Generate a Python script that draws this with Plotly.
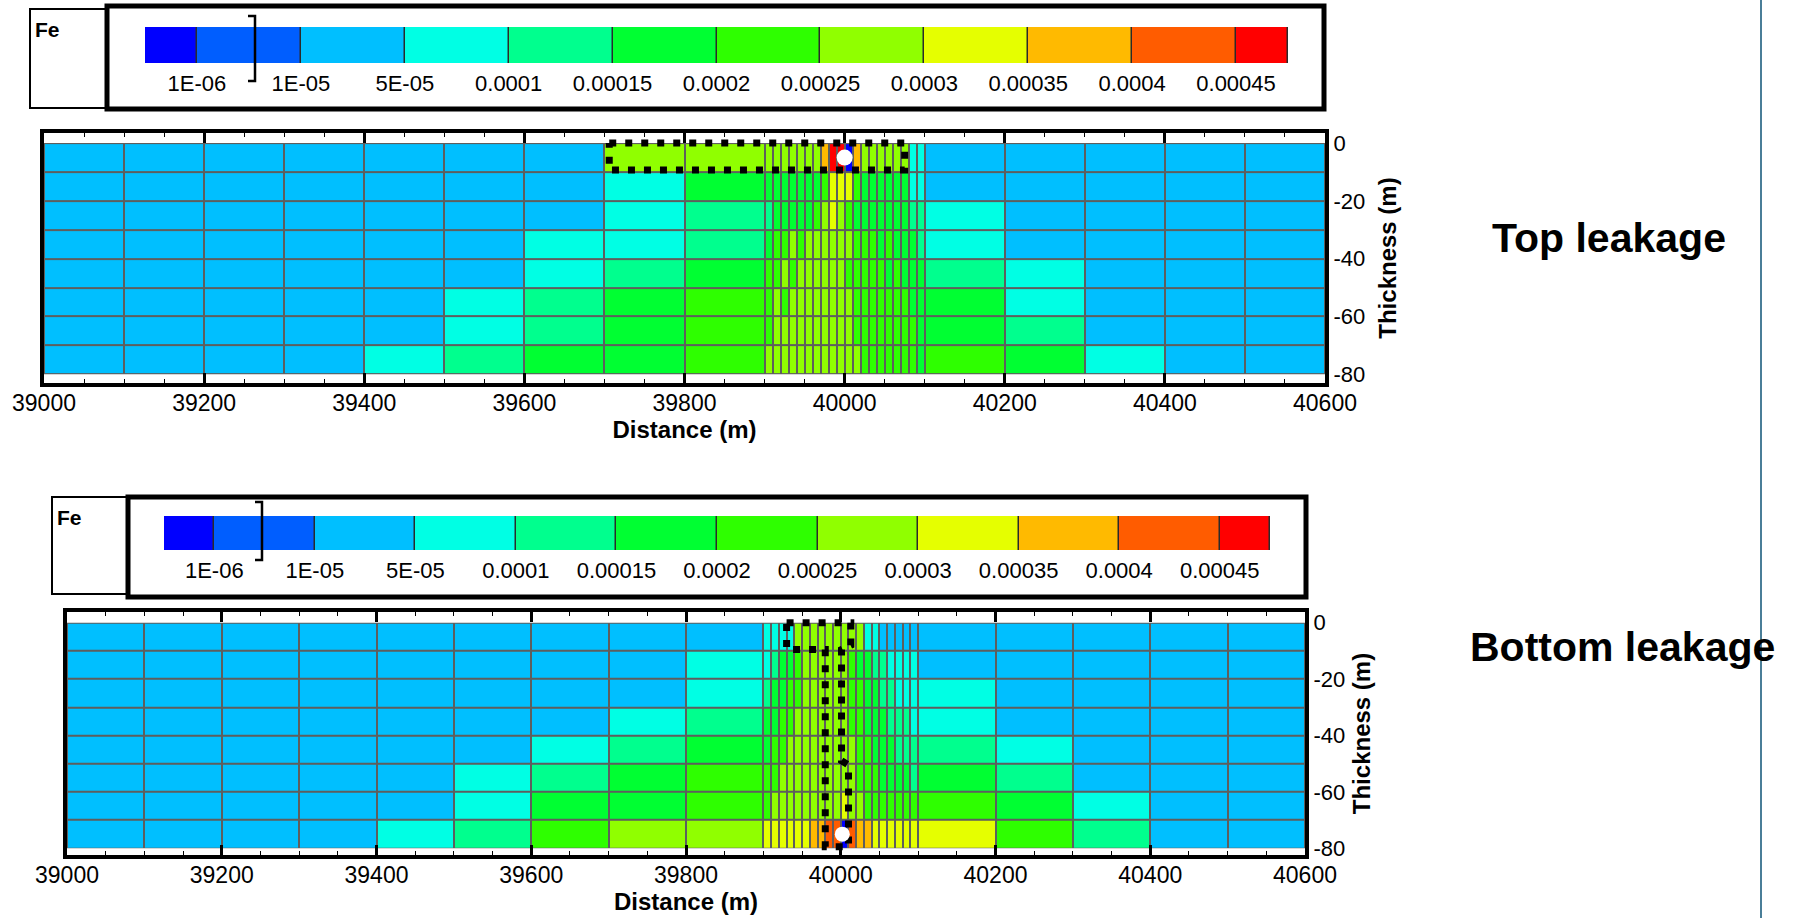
import numpy as np
import plotly.graph_objects as go

W, H = 1802, 918

# ---------------- data ----------------
# cell edges of the model grid (m)
x_edges = [39000, 39100, 39200, 39300, 39400, 39500, 39600, 39700, 39800, 39900,
           39910, 39920, 39930, 39940, 39950, 39960, 39970, 39980, 39990, 40000,
           40010, 40020, 40030, 40040, 40050, 40060, 40070, 40080, 40090, 40100,
           40200, 40300, 40400, 40500, 40600]
y_edges = [-80, -70, -60, -50, -40, -30, -20, -10, 0]

x_tick_vals = [39000, 39200, 39400, 39600, 39800, 40000, 40200, 40400, 40600]
x_tick_text = ["39000", "39200", "39400", "39600", "39800", "40000", "40200", "40400", "40600"]
y_tick_vals = [0, -20, -40, -60, -80]
y_tick_text = ["0", "-20", "-40", "-60", "-80"]

# contour levels and legend
levels = [1e-6, 1e-5, 5e-5, 1e-4, 1.5e-4, 2e-4, 2.5e-4, 3e-4, 3.5e-4, 4e-4, 4.5e-4]
level_labels = ["1E-06", "1E-05", "5E-05", "0.0001", "0.00015", "0.0002",
                "0.00025", "0.0003", "0.00035", "0.0004", "0.00045"]
level_colors = ["#0000FF", "#005EFF", "#00BFFF", "#00FFE4", "#00FF8E", "#00FF32",
                "#2EFF00", "#90FF00", "#E5FF00", "#FFBA00", "#FF5C00", "#FF0000"]

# Fe concentration (unit 1e-5), rows from top layer (0..-10 m) to bottom layer (-70..-80 m)
top_fe = [
    [3, 3, 3, 3, 3, 3, 3, 27.5, 27.5,
     27.5, 27.5, 27.5, 27.5, 27.5, 27.5, 27.5, 37.5, 47.5, 47.5, 0.05, 37.5, 27.5, 27.5, 27.5, 27.5, 27.5, 27.5, 7.5, 7.5,
     3, 3, 3, 3, 3],
    [3, 3, 3, 3, 3, 3, 3, 7.5, 17.5,
     17.5, 17.5, 17.5, 17.5, 17.5, 17.5, 17.5, 22.5, 32.5, 32.5, 32.5, 22.5, 17.5, 17.5, 17.5, 17.5, 17.5, 17.5, 7.5, 7.5,
     3, 3, 3, 3, 3],
    [3, 3, 3, 3, 3, 3, 3, 7.5, 12.5,
     12.5, 17.5, 17.5, 17.5, 17.5, 17.5, 22.5, 27.5, 32.5, 27.5, 22.5, 17.5, 17.5, 17.5, 17.5, 17.5, 17.5, 17.5, 12.5, 12.5,
     7.5, 3, 3, 3, 3],
    [3, 3, 3, 3, 3, 3, 7.5, 7.5, 12.5,
     17.5, 22.5, 22.5, 27.5, 22.5, 27.5, 27.5, 27.5, 27.5, 27.5, 27.5, 22.5, 22.5, 22.5, 17.5, 22.5, 17.5, 17.5, 17.5, 12.5,
     7.5, 3, 3, 3, 3],
    [3, 3, 3, 3, 3, 3, 7.5, 12.5, 17.5,
     22.5, 22.5, 27.5, 22.5, 27.5, 27.5, 27.5, 27.5, 27.5, 27.5, 22.5, 22.5, 22.5, 22.5, 22.5, 17.5, 22.5, 17.5, 17.5, 17.5,
     12.5, 7.5, 3, 3, 3],
    [3, 3, 3, 3, 3, 7.5, 12.5, 17.5, 22.5,
     22.5, 27.5, 22.5, 27.5, 27.5, 27.5, 27.5, 27.5, 27.5, 27.5, 27.5, 22.5, 22.5, 22.5, 22.5, 22.5, 22.5, 22.5, 17.5, 17.5,
     17.5, 7.5, 3, 3, 3],
    [3, 3, 3, 3, 3, 7.5, 12.5, 17.5, 22.5,
     22.5, 27.5, 27.5, 27.5, 27.5, 27.5, 27.5, 27.5, 27.5, 27.5, 27.5, 22.5, 22.5, 22.5, 22.5, 22.5, 22.5, 22.5, 22.5, 17.5,
     17.5, 12.5, 3, 3, 3],
    [3, 3, 3, 3, 7.5, 12.5, 17.5, 17.5, 22.5,
     27.5, 27.5, 27.5, 27.5, 27.5, 27.5, 27.5, 27.5, 27.5, 27.5, 27.5, 27.5, 22.5, 22.5, 22.5, 22.5, 22.5, 22.5, 22.5, 17.5,
     22.5, 17.5, 7.5, 3, 3],
]

bottom_fe = [
    [3, 3, 3, 3, 3, 3, 3, 3, 3,
     7.5, 7.5, 7.5, 7.5, 27.5, 27.5, 27.5, 27.5, 27.5, 27.5, 27.5, 27.5, 27.5, 7.5, 7.5, 3, 3, 3, 3, 3,
     3, 3, 3, 3, 3],
    [3, 3, 3, 3, 3, 3, 3, 3, 7.5,
     7.5, 12.5, 17.5, 17.5, 22.5, 27.5, 27.5, 27.5, 27.5, 27.5, 27.5, 22.5, 17.5, 17.5, 12.5, 12.5, 7.5, 7.5, 7.5, 7.5,
     3, 3, 3, 3, 3],
    [3, 3, 3, 3, 3, 3, 3, 3, 7.5,
     12.5, 17.5, 17.5, 22.5, 22.5, 27.5, 27.5, 27.5, 27.5, 27.5, 27.5, 22.5, 22.5, 17.5, 17.5, 12.5, 12.5, 7.5, 7.5, 7.5,
     7.5, 3, 3, 3, 3],
    [3, 3, 3, 3, 3, 3, 3, 7.5, 12.5,
     17.5, 17.5, 22.5, 22.5, 27.5, 27.5, 27.5, 27.5, 27.5, 27.5, 27.5, 22.5, 22.5, 17.5, 17.5, 17.5, 12.5, 12.5, 12.5, 7.5,
     7.5, 3, 3, 3, 3],
    [3, 3, 3, 3, 3, 3, 7.5, 12.5, 17.5,
     17.5, 22.5, 22.5, 27.5, 27.5, 27.5, 27.5, 27.5, 27.5, 27.5, 27.5, 27.5, 22.5, 22.5, 17.5, 17.5, 17.5, 12.5, 12.5, 12.5,
     12.5, 7.5, 3, 3, 3],
    [3, 3, 3, 3, 3, 7.5, 12.5, 17.5, 22.5,
     22.5, 22.5, 27.5, 27.5, 27.5, 27.5, 27.5, 27.5, 27.5, 27.5, 27.5, 27.5, 22.5, 22.5, 22.5, 17.5, 17.5, 17.5, 17.5, 12.5,
     17.5, 12.5, 3, 3, 3],
    [3, 3, 3, 3, 3, 7.5, 17.5, 17.5, 22.5,
     22.5, 27.5, 27.5, 27.5, 27.5, 27.5, 27.5, 27.5, 27.5, 27.5, 32.5, 27.5, 27.5, 22.5, 22.5, 22.5, 22.5, 22.5, 22.5, 22.5,
     22.5, 17.5, 7.5, 3, 3],
    [3, 3, 3, 3, 7.5, 12.5, 22.5, 27.5, 27.5,
     32.5, 32.5, 32.5, 32.5, 32.5, 32.5, 37.5, 37.5, 42.5, 42.5, 0.05, 42.5, 37.5, 37.5, 32.5, 32.5, 32.5, 32.5, 32.5, 32.5,
     32.5, 22.5, 12.5, 3, 3],
]
fe_unit = 1e-5

# leakage wells and plume outlines
top_well_x, top_well_y = [40000], [-5]
bottom_well_x, bottom_well_y = [40002], [-75]
top_outline_x = [39706, 40075, 40075, 39706, 39706]
top_outline_y = [0, 0, -9.3, -9.3, 0]
bottom_outline_x = [39930, 40013, 40013, 40001, 40001, 40010, 40010, 39980, 39980, 39930, 39930]
bottom_outline_y = [0, 0, -8, -9.5, -49, -50.5, -79.5, -79.5, -9.5, -9.5, 0]

# ---------------- figure ----------------
FONT = "Liberation Sans, Arial, sans-serif"
n_lev = len(level_colors)
cscale = []
for i, c in enumerate(level_colors):
    cscale += [[i / n_lev, c], [(i + 1) / n_lev, c]]


def classes(rows):
    arr = np.array(rows, dtype=float) * fe_unit
    return np.digitize(arr, levels)[::-1]


def px_x(p):
    return p / W


def px_y(p):
    return 1 - p / H


fig = go.Figure()
for rows, xa, ya in [(top_fe, "x", "y"), (bottom_fe, "x2", "y2")]:
    fig.add_trace(go.Heatmap(x=x_edges, y=y_edges, z=classes(rows), colorscale=cscale,
                             zmin=-0.5, zmax=n_lev - 0.5, showscale=False, xgap=2, ygap=2,
                             hoverinfo="skip", xaxis=xa, yaxis=ya))

for ox, oy, xa, ya in [(top_outline_x, top_outline_y, "x", "y"),
                       (bottom_outline_x, bottom_outline_y, "x2", "y2")]:
    fig.add_trace(go.Scatter(x=ox, y=oy, mode="lines", xaxis=xa, yaxis=ya,
                             line=dict(color="black", width=7, dash="7px,9px"),
                             hoverinfo="skip", showlegend=False))

for wx, wy, xa, ya, s in [(top_well_x, top_well_y, "x", "y", 16),
                          (bottom_well_x, bottom_well_y, "x2", "y2", 15)]:
    fig.add_trace(go.Scatter(x=wx, y=wy, mode="markers", xaxis=xa, yaxis=ya,
                             marker=dict(color="white", size=s, line=dict(width=0)),
                             hoverinfo="skip", showlegend=False))

leg_edges = [-0.5] + list(range(len(level_labels))) + [len(level_labels) - 0.5]
for xa, ya in [("x3", "y3"), ("x4", "y4")]:
    fig.add_trace(go.Heatmap(x=leg_edges, y=[0, 1], z=[list(range(n_lev))], colorscale=cscale,
                             zmin=-0.5, zmax=n_lev - 0.5, showscale=False, xgap=1.5,
                             hoverinfo="skip", xaxis=xa, yaxis=ya))


def main_x(domain, anchor):
    return dict(domain=domain, anchor=anchor, range=[39000, 40600], showline=True, linewidth=4,
                linecolor="black", mirror="ticks", ticks="inside", ticklen=10, tickwidth=2.5,
                tickcolor="black", tickvals=x_tick_vals, ticktext=x_tick_text, ticklabelstandoff=-4,
                minor=dict(ticks="inside", ticklen=4, tickwidth=1, tickcolor="black", dtick=50, tick0=39000),
                showgrid=False, zeroline=False, tickfont=dict(size=23), automargin=False,
                title=dict(text="<b>Distance (m)</b>", font=dict(size=24), standoff=6))


def main_y(domain, anchor, rng, standoff):
    return dict(domain=domain, anchor=anchor, range=rng, side="right", showline=True, linewidth=4,
                linecolor="black", mirror=True, ticks="", tickvals=y_tick_vals, ticktext=y_tick_text,
                showgrid=False, zeroline=False, tickfont=dict(size=22), automargin=False,
                title=dict(text="<b>Thickness (m)</b>", font=dict(size=24), standoff=standoff))


def leg_x(domain, anchor):
    return dict(domain=domain, anchor=anchor, range=[leg_edges[0], leg_edges[-1]], showline=False,
                showgrid=False, zeroline=False, ticks="outside", ticklen=1, tickcolor="rgba(0,0,0,0)",
                tickvals=list(range(len(level_labels))), ticktext=level_labels, tickfont=dict(size=22),
                automargin=False)


def leg_y(domain, anchor):
    return dict(domain=domain, anchor=anchor, range=[0, 1], visible=False, automargin=False)


fig.update_layout(
    template="none",
    width=W, height=H, margin=dict(l=0, r=0, t=0, b=0, pad=0), autosize=False,
    paper_bgcolor="white", plot_bgcolor="white", showlegend=False,
    font=dict(family=FONT, color="black", size=22),
    xaxis=main_x([px_x(44), px_x(1325)], "y"),
    yaxis=main_y([px_y(383), px_y(133)], "x", [-83.0, 3.5], 16),
    xaxis2=main_x([px_x(67), px_x(1305)], "y2"),
    yaxis2=main_y([px_y(855), px_y(612)], "x2", [-82.4, 3.8], 10),
    xaxis3=leg_x([px_x(145), px_x(1288)], "y3"),
    yaxis3=leg_y([px_y(63), px_y(27)], "x3"),
    xaxis4=leg_x([px_x(164), px_x(1270)], "y4"),
    yaxis4=leg_y([px_y(550), px_y(516)], "x4"),
)

shapes = []
# grey cell borders behind the grids
for xr, yr in [("x", "y"), ("x2", "y2")]:
    shapes.append(dict(type="rect", xref=xr, yref=yr, x0=x_edges[0], x1=x_edges[-1],
                       y0=y_edges[0], y1=y_edges[-1], fillcolor="#5E5E5E", line=dict(width=0), layer="below"))
# dark borders behind legend bars
for xr, yr in [("x3", "y3"), ("x4", "y4")]:
    shapes.append(dict(type="rect", xref=xr, yref=yr, x0=leg_edges[0], x1=leg_edges[-1], y0=0, y1=1,
                       fillcolor="#2A2A2A", line=dict(width=1, color="#2A2A2A"), layer="below"))


def rect_px(x0, y0, x1, y1, w):
    return dict(type="rect", xref="paper", yref="paper", x0=px_x(x0), x1=px_x(x1),
                y0=px_y(y1), y1=px_y(y0), line=dict(color="black", width=w), fillcolor="rgba(0,0,0,0)")


def path_px(pts, w):
    d = "M " + " L ".join(f"{px_x(a):.5f},{px_y(b):.5f}" for a, b in pts)
    return dict(type="path", xref="paper", yref="paper", path=d, line=dict(color="black", width=w))


shapes += [rect_px(30, 9, 107, 108, 2), rect_px(107, 6, 1324, 109, 5),
           rect_px(52, 497, 128, 594, 2), rect_px(128, 497, 1306, 597, 5),
           path_px([(248, 16), (255, 16), (255, 81), (248, 81)], 2.5),
           path_px([(255, 502), (262, 502), (262, 560), (255, 560)], 2.5),
           dict(type="line", xref="paper", yref="paper", x0=px_x(1761), x1=px_x(1761), y0=0, y1=1,
                line=dict(color="#4A7E98", width=2))]
fig.update_layout(shapes=shapes)

annotations = [
    dict(text="<b>Fe</b>", x=px_x(33), y=px_y(16), xref="paper", yref="paper", xanchor="left",
         yanchor="top", showarrow=False, font=dict(size=21)),
    dict(text="<b>Fe</b>", x=px_x(55), y=px_y(504), xref="paper", yref="paper", xanchor="left",
         yanchor="top", showarrow=False, font=dict(size=21)),
    dict(text="<b>Top leakage</b>", x=px_x(1609), y=px_y(238), xref="paper", yref="paper",
         xanchor="center", yanchor="middle", showarrow=False, font=dict(size=41)),
    dict(text="<b>Bottom leakage</b>", x=px_x(1622), y=px_y(647), xref="paper", yref="paper",
         xanchor="center", yanchor="middle", showarrow=False, font=dict(size=41)),
]
fig.update_layout(annotations=annotations)

fig.write_html("out.html")
